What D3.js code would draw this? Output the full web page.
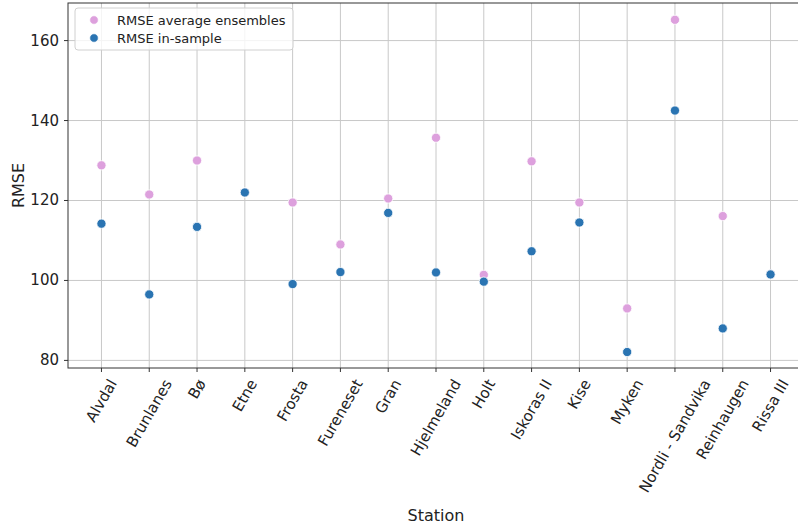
<!DOCTYPE html>
<html><head><meta charset="utf-8">
<script src="https://cdn.jsdelivr.net/npm/d3@7"></script>
<style>body{margin:0;background:#fff}svg{display:block;font-family:"DejaVu Sans",sans-serif}</style>
</head><body><svg id="c" width="798" height="528"></svg>
<script>
const stations = ["Alvdal","Brunlanes","Bø","Etne","Frosta","Fureneset","Gran","Hjelmeland","Holt","Iskoras II","Kise","Myken","Nordli - Sandvika","Reinhaugen","Rissa III"];
const rmseAvgEnsembles = [128.8,121.5,130.0,122.0,119.5,109.0,120.5,135.7,101.4,129.8,119.5,93.0,165.2,116.1,101.5];
const rmseInSample = [114.2,96.5,113.4,122.0,99.1,102.1,116.9,102.0,99.7,107.3,114.5,82.1,142.5,88.0,101.5];
const yTicks = [80,100,120,140,160];
const seriesNames = ["RMSE average ensembles","RMSE in-sample"];
const seriesColors = ["#dda0dd","#2a74b2"];

const svg = d3.select("#c");
const L=68, R=804, T=3, B=368;
const x = d3.scaleLinear().domain([-0.7, stations.length-1+0.7]).range([L,R]);
const y = d3.scaleLinear().domain([78.1,169.4]).range([B,T]);

// grid
const g = svg.append("g");
g.selectAll(".hg").data(yTicks).join("line")
 .attr("x1",L).attr("x2",R).attr("y1",d=>y(d)).attr("y2",d=>y(d))
 .attr("stroke","#c8c8c8").attr("stroke-width",1);
g.selectAll(".vg").data(stations).join("line")
 .attr("x1",(d,i)=>x(i)).attr("x2",(d,i)=>x(i)).attr("y1",T).attr("y2",B)
 .attr("stroke","#c8c8c8").attr("stroke-width",1);

// spines
svg.append("rect").attr("x",L).attr("y",T).attr("width",R-L).attr("height",B-T)
 .attr("fill","none").attr("stroke","#333").attr("stroke-width",1);

// y axis ticks
const yax = svg.append("g");
yTicks.forEach(t=>{
  yax.append("line").attr("x1",L-4).attr("x2",L).attr("y1",y(t)).attr("y2",y(t)).attr("stroke","#333");
  yax.append("text").attr("x",L-9).attr("y",y(t)).attr("text-anchor","end")
   .attr("dominant-baseline","central").attr("font-size",15).attr("fill","#222").text(t);
});
// x axis ticks + rotated labels
const ang = 60*Math.PI/180;
stations.forEach((s,i)=>{
  svg.append("line").attr("x1",x(i)).attr("x2",x(i)).attr("y1",B).attr("y2",B+4).attr("stroke","#333");
  const t = svg.append("text").attr("font-size",15).attr("fill","#222")
    .attr("text-anchor","middle").attr("dominant-baseline","central").text(s);
  const w = t.node().getComputedTextLength(), h = 15;
  const H = w*Math.sin(ang) + h*Math.cos(ang);
  const cy = B + 9 + H/2;
  t.attr("transform",`translate(${x(i)},${cy}) rotate(-60)`);
});

// axis titles
svg.append("text").attr("x",(L+R)/2).attr("y",515).attr("text-anchor","middle")
 .attr("dominant-baseline","central").attr("font-size",16).attr("fill","#222").text("Station");
svg.append("text").attr("transform",`translate(18,${(T+B)/2}) rotate(-90)`).attr("text-anchor","middle")
 .attr("dominant-baseline","central").attr("font-size",16).attr("fill","#222").text("RMSE");

// points
[rmseAvgEnsembles, rmseInSample].forEach((vals,k)=>{
  svg.append("g").selectAll("circle").data(vals).join("circle")
   .attr("cx",(d,i)=>x(i)).attr("cy",d=>y(d)).attr("r",4.6)
   .attr("fill",seriesColors[k]).attr("stroke","#fff").attr("stroke-width",0.8);
});

// legend
const lg = svg.append("g");
lg.append("rect").attr("x",75).attr("y",8).attr("width",218).attr("height",42).attr("rx",3)
 .attr("fill","#fff").attr("fill-opacity",0.8).attr("stroke","#d0d0d0");
seriesNames.forEach((n,k)=>{
  const yy = 20 + k*18;
  lg.append("circle").attr("cx",94).attr("cy",yy).attr("r",4.3).attr("fill",seriesColors[k])
   .attr("stroke","#fff").attr("stroke-width",0.8);
  lg.append("text").attr("x",117).attr("y",yy).attr("dominant-baseline","central")
   .attr("font-size",13).attr("fill","#222").text(n);
});
</script></body></html>
